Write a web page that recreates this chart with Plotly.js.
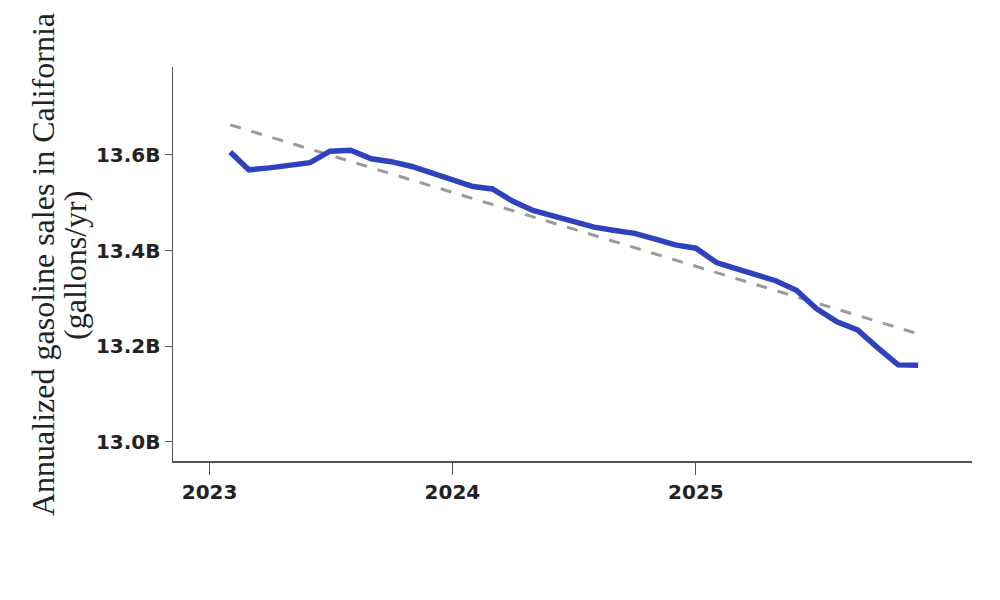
<!DOCTYPE html>
<html>
<head>
<meta charset="utf-8">
<script src="https://cdn.plot.ly/plotly-3.0.1.min.js"></script>
<style>html,body{margin:0;padding:0;background:#fff;}#chart{width:1000px;height:600px;}</style>
</head>
<body>
<div id="chart"></div>
<script>
// Monthly annualized gasoline sales in California (billions of gallons/yr)
const months = [
  "2023-02-01","2023-03-01","2023-04-01","2023-05-01","2023-06-01","2023-07-01","2023-08-01",
  "2023-09-01","2023-10-01","2023-11-01","2023-12-01","2024-01-01","2024-02-01","2024-03-01",
  "2024-04-01","2024-05-01","2024-06-01","2024-07-01","2024-08-01","2024-09-01","2024-10-01",
  "2024-11-01","2024-12-01","2025-01-01","2025-02-01","2025-03-01","2025-04-01","2025-05-01",
  "2025-06-01","2025-07-01","2025-08-01","2025-09-01","2025-10-01","2025-11-01","2025-12-01"
];
const sales = [
  13.606,13.569,13.573,13.578,13.584,13.608,13.610,
  13.592,13.586,13.576,13.563,13.548,13.534,13.529,
  13.503,13.484,13.472,13.460,13.449,13.442,13.436,
  13.424,13.412,13.405,13.375,13.363,13.351,13.337,
  13.317,13.279,13.251,13.234,13.197,13.161,13.160
];
// Linear trend line endpoints
const trendDates = ["2023-02-01","2025-12-01"];
const trendValues = [13.663, 13.226];

const yTicks = [13.0, 13.2, 13.4, 13.6];
const yTickLabels = ["13.0B","13.2B","13.4B","13.6B"];
const xTicks = ["2023-01-01","2024-01-01","2025-01-01"];
const xTickLabels = ["2023","2024","2025"];
const yTitleLines = ["Annualized gasoline sales in California", "(gallons/yr)"];

const traces = [
  {
    x: trendDates, y: trendValues, type: "scatter", mode: "lines",
    line: {color: "#9a9a9a", width: 3, dash: "11px,11px"},
    hoverinfo: "skip", showlegend: false
  },
  {
    x: months, y: sales, type: "scatter", mode: "lines",
    line: {color: "#2e42be", width: 5.5},
    showlegend: false
  }
];

const tickFont = {family: "'DejaVu Sans', sans-serif", size: 20, color: "#222", weight: 700};
const titleFont = {family: "'Liberation Serif', 'DejaVu Serif', serif", size: 32, color: "#222"};

const layout = {
  width: 1000, height: 600,
  margin: {l: 173, r: 28, t: 67, b: 139},
  paper_bgcolor: "#fff", plot_bgcolor: "#fff",
  xaxis: {
    type: "date",
    range: ["2022-11-07", "2026-02-20"],
    tickmode: "array", tickvals: xTicks, ticktext: xTickLabels,
    ticks: "outside", ticklen: 12, tickwidth: 1, tickcolor: "#555",
    showline: true, linecolor: "#555", linewidth: 1.5,
    showgrid: false, zeroline: false,
    tickfont: tickFont
  },
  yaxis: {
    range: [12.96, 13.784],
    tickmode: "array", tickvals: yTicks, ticktext: yTickLabels,
    ticks: "outside", ticklen: 7, tickwidth: 1, tickcolor: "#555",
    showline: true, linecolor: "#555", linewidth: 1.5,
    showgrid: false, zeroline: false,
    tickfont: tickFont
  },
  annotations: [
    {text: yTitleLines[0], xref: "paper", yref: "paper", x: -0.1627, y: 0.4975,
     xanchor: "center", yanchor: "middle", textangle: -90, showarrow: false, font: titleFont},
    {text: yTitleLines[1], xref: "paper", yref: "paper", x: -0.1227, y: 0.4975,
     xanchor: "center", yanchor: "middle", textangle: -90, showarrow: false, font: titleFont}
  ]
};

Plotly.newPlot("chart", traces, layout, {displayModeBar: false, staticPlot: true});
</script>
</body>
</html>
